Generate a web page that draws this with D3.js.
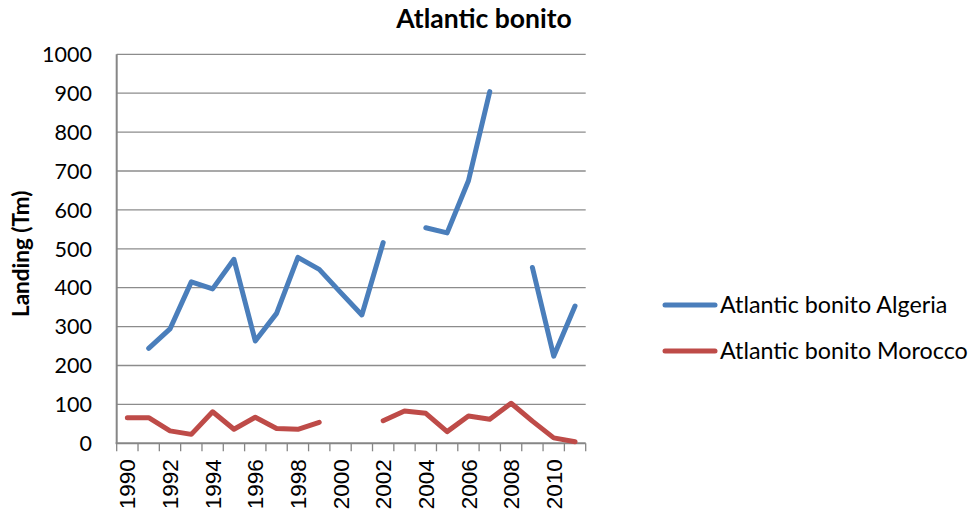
<!DOCTYPE html>
<html>
<head>
<meta charset="utf-8">
<script src="https://cdn.jsdelivr.net/npm/d3@7"></script>
<style>
  html, body { margin: 0; padding: 0; background: #fff; }
  svg { display: block; }
</style>
</head>
<body>
<svg id="chart" width="972" height="517"></svg>
<script>
const years = [1990,1991,1992,1993,1994,1995,1996,1997,1998,1999,2000,2001,2002,2003,2004,2005,2006,2007,2008,2009,2010,2011];
const algeria = [null,244,294,415,397,473,263,334,478,447,388,330,516,null,554,541,675,904,null,452,224,353];
const morocco = [66,66,32,23,81,36,67,38,36,54,null,null,58,83,77,30,70,62,103,57,14,4];
const yTicks = [0,100,200,300,400,500,600,700,800,900,1000];
const xLabelYears = [1990,1992,1994,1996,1998,2000,2002,2004,2006,2008,2010];
const seriesNames = ["Atlantic bonito Algeria","Atlantic bonito Morocco"];
const seriesColors = ["#4a7ebb","#be4b48"];
const title = "Atlantic bonito";
const yTitle = "Landing (Tm)";

const svg = d3.select("#chart");
const pLeft = 116.7, pRight = 585.7, pTop = 54.3, pBottom = 443.3;

const x = d3.scaleBand().domain(years).range([pLeft, pRight]).padding(0);
const y = d3.scaleLinear().domain([0, 1000]).range([pBottom, pTop]);

const calibri = "Lato, 'Open Sans', sans-serif";

// gridlines
svg.append("g").selectAll("line").data(yTicks.filter(d => d > 0)).join("line")
  .attr("x1", pLeft).attr("x2", pRight)
  .attr("y1", d => y(d)).attr("y2", d => y(d))
  .attr("stroke", "#8c8c8c").attr("stroke-width", 1.3);

// y axis line
svg.append("line").attr("x1", pLeft).attr("x2", pLeft).attr("y1", pTop).attr("y2", pBottom + 0.5)
  .attr("stroke", "#868686").attr("stroke-width", 2);
// x axis line
svg.append("line").attr("x1", pLeft - 1).attr("x2", pRight).attr("y1", pBottom).attr("y2", pBottom)
  .attr("stroke", "#868686").attr("stroke-width", 2);

// x ticks at band boundaries
const boundaries = years.map(d => x(d)).concat([x(years[years.length - 1]) + x.bandwidth()]);
svg.append("g").selectAll("line").data(boundaries).join("line")
  .attr("x1", d => d).attr("x2", d => d)
  .attr("y1", pBottom).attr("y2", pBottom + 8)
  .attr("stroke", "#868686").attr("stroke-width", 1.3);

// y tick labels
svg.append("g").selectAll("text").data(yTicks).join("text")
  .attr("x", 92).attr("y", d => y(d)).attr("dy", "0.36em")
  .attr("text-anchor", "end")
  .attr("font-family", calibri).attr("font-size", 21.5)
  .attr("fill", "#000").text(d => d);

// x tick labels (rotated)
svg.append("g").selectAll("text").data(xLabelYears).join("text")
  .attr("transform", d => `translate(${x(d) + x.bandwidth() / 2},${pBottom + 16}) rotate(-90)`)
  .attr("text-anchor", "end").attr("dy", "0.36em")
  .attr("font-family", "'Liberation Sans', Arial, sans-serif").attr("font-size", 22.5)
  .attr("fill", "#000").text(d => d);

// lines
const line = d3.line()
  .defined(d => d.v != null)
  .x(d => x(d.year) + x.bandwidth() / 2)
  .y(d => y(d.v));

[algeria, morocco].forEach((vals, i) => {
  const data = years.map((yr, j) => ({ year: yr, v: vals[j] }));
  svg.append("path").datum(data)
    .attr("d", line)
    .attr("fill", "none")
    .attr("stroke", seriesColors[i])
    .attr("stroke-width", 5)
    .attr("stroke-linejoin", "round")
    .attr("stroke-linecap", "round");
});

// title
svg.append("text").attr("x", 484).attr("y", 28)
  .attr("text-anchor", "middle")
  .attr("font-family", calibri).attr("font-weight", "bold").attr("font-size", 26.5)
  .attr("fill", "#000").text(title);

// y title
svg.append("text").attr("transform", `translate(29,${(pTop + pBottom) / 2 + 5}) rotate(-90)`)
  .attr("text-anchor", "middle")
  .attr("font-family", calibri).attr("font-weight", "bold").attr("font-size", 22.5)
  .attr("fill", "#000").text(yTitle);

// legend
const legY = [305, 351];
const leg = svg.append("g").selectAll("g").data(seriesNames).join("g")
  .attr("transform", (d, i) => `translate(665,${legY[i]})`);
leg.append("line").attr("x1", 0).attr("x2", 50).attr("y1", 0).attr("y2", 0)
  .attr("stroke", (d, i) => seriesColors[i]).attr("stroke-width", 5).attr("stroke-linecap", "round");
leg.append("text").attr("x", 55).attr("y", 0).attr("dy", "0.36em")
  .attr("font-family", calibri).attr("font-size", 23.3).attr("fill", "#000").text(d => d);
</script>
</body>
</html>
